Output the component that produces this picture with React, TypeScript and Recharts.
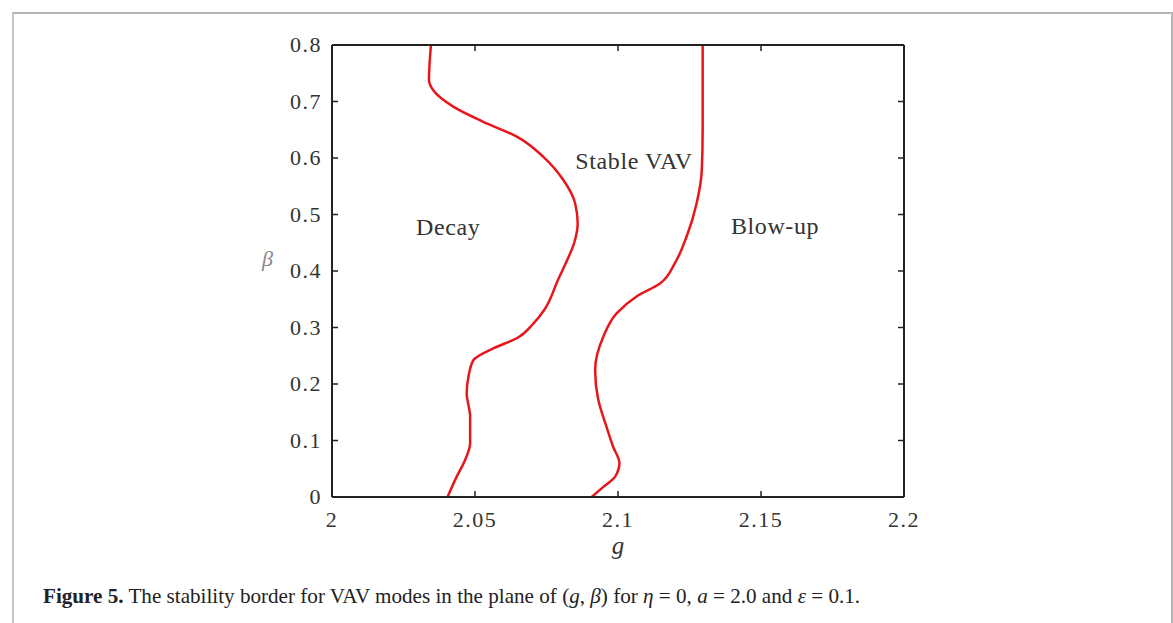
import React from "react";
import {
  LineChart,
  Line,
  XAxis,
  YAxis,
  ReferenceDot,
} from "recharts";

// stability border curves, g as a function of beta
const decayBorder = [
  { g: 2.0404, b: 0.0 },
  { g: 2.0436, b: 0.036 },
  { g: 2.0465, b: 0.065 },
  { g: 2.0483, b: 0.095 },
  { g: 2.0483, b: 0.142 },
  { g: 2.0471, b: 0.184 },
  { g: 2.0477, b: 0.213 },
  { g: 2.0494, b: 0.242 },
  { g: 2.0564, b: 0.263 },
  { g: 2.0646, b: 0.281 },
  { g: 2.0704, b: 0.307 },
  { g: 2.0742, b: 0.331 },
  { g: 2.0790, b: 0.384 },
  { g: 2.0822, b: 0.419 },
  { g: 2.0847, b: 0.45 },
  { g: 2.0859, b: 0.484 },
  { g: 2.0850, b: 0.52 },
  { g: 2.0809, b: 0.561 },
  { g: 2.0739, b: 0.602 },
  { g: 2.0646, b: 0.638 },
  { g: 2.0529, b: 0.664 },
  { g: 2.0424, b: 0.691 },
  { g: 2.0354, b: 0.72 },
  { g: 2.0339, b: 0.738 },
  { g: 2.0346, b: 0.8 },
];

const blowupBorder = [
  { g: 2.0908, b: 0.0 },
  { g: 2.0949, b: 0.018 },
  { g: 2.0990, b: 0.036 },
  { g: 2.1005, b: 0.06 },
  { g: 2.0983, b: 0.089 },
  { g: 2.0960, b: 0.124 },
  { g: 2.0931, b: 0.172 },
  { g: 2.0920, b: 0.225 },
  { g: 2.0949, b: 0.284 },
  { g: 2.0995, b: 0.325 },
  { g: 2.1065, b: 0.355 },
  { g: 2.1147, b: 0.378 },
  { g: 2.1199, b: 0.414 },
  { g: 2.1240, b: 0.461 },
  { g: 2.1275, b: 0.52 },
  { g: 2.1293, b: 0.579 },
  { g: 2.1296, b: 0.65 },
  { g: 2.1296, b: 0.8 },
];

const gTicks = [2, 2.05, 2.1, 2.15, 2.2];
const betaTicks = [0, 0.1, 0.2, 0.3, 0.4, 0.5, 0.6, 0.7, 0.8];

const regionLabels = [
  { text: "Decay", g: 2.0406, b: 0.478 },
  { text: "Stable VAV", g: 2.1056, b: 0.596 },
  { text: "Blow-up", g: 2.1549, b: 0.48 },
];

const FONT = "'Liberation Serif', 'Times New Roman', serif";
const INK = "#333";
const AXIS = "#222";

const BottomTick = ({ x, y, payload }: any) => (
  <g>
    <line x1={x} x2={x} y1={y} y2={y - 6} stroke={AXIS} strokeWidth={1.5} />
    <text x={x} y={y + 30} textAnchor="middle" fontSize={22} letterSpacing={1.5} fill={INK} fontFamily={FONT}>
      {payload.value}
    </text>
  </g>
);

const TopTick = ({ x, y }: any) => (
  <line x1={x} x2={x} y1={y} y2={y + 6} stroke={AXIS} strokeWidth={1.5} />
);

const LeftTick = ({ x, y, payload }: any) => (
  <g>
    <line x1={x} x2={x + 6} y1={y} y2={y} stroke={AXIS} strokeWidth={1.5} />
    <text x={x - 10} y={y + 7} textAnchor="end" fontSize={22} letterSpacing={1.5} fill={INK} fontFamily={FONT}>
      {payload.value}
    </text>
  </g>
);

const RightTick = ({ x, y }: any) => (
  <line x1={x} x2={x - 6} y1={y} y2={y} stroke={AXIS} strokeWidth={1.5} />
);

export default function App() {
  return (
    <div style={{ position: "absolute", left: 0, top: 0, width: 1173, height: 623, background: "#fff" }}>
      <div
        style={{
          position: "absolute",
          left: 12,
          top: 12,
          width: 1157,
          height: 640,
          borderTop: "2px solid #b5b5b5",
          borderLeft: "2px solid #c5c5c5",
          borderRight: "2px solid #b5b5b5",
        }}
      />
      <div style={{ position: "absolute", left: 0, top: 0 }}>
        <LineChart width={1173} height={623} margin={{ top: 44, right: 268, left: 252, bottom: 66 }}>
          <XAxis
            xAxisId="g"
            type="number"
            dataKey="g"
            domain={[2, 2.2]}
            ticks={gTicks}
            height={60}
            tickSize={0}
            tickMargin={0}
            tick={<BottomTick />}
            axisLine={{ stroke: AXIS, strokeWidth: 2 }}
            tickLine={false}
            allowDataOverflow
            label={{ value: "g", position: "insideBottom", offset: 3, fontSize: 25, fontStyle: "italic", fill: INK, fontFamily: FONT }}
          />
          <XAxis
            xAxisId="top"
            orientation="top"
            type="number"
            dataKey="g"
            domain={[2, 2.2]}
            ticks={gTicks}
            height={1}
            tickSize={0}
            tickMargin={0}
            tick={<TopTick />}
            axisLine={{ stroke: AXIS, strokeWidth: 2 }}
            tickLine={false}
            allowDataOverflow
          />
          <YAxis
            yAxisId="b"
            type="number"
            dataKey="b"
            domain={[0, 0.8]}
            ticks={betaTicks}
            width={80}
            tickSize={0}
            tickMargin={0}
            tick={<LeftTick />}
            axisLine={{ stroke: AXIS, strokeWidth: 2 }}
            tickLine={false}
            allowDataOverflow
            label={{ value: "β", position: "insideLeft", offset: 10, dy: -13, fontSize: 22, fontStyle: "italic", fill: "#888", fontFamily: FONT }}
          />
          <YAxis
            yAxisId="right"
            orientation="right"
            type="number"
            dataKey="b"
            domain={[0, 0.8]}
            ticks={betaTicks}
            width={1}
            tickSize={0}
            tickMargin={0}
            tick={<RightTick />}
            axisLine={{ stroke: AXIS, strokeWidth: 2 }}
            tickLine={false}
            allowDataOverflow
          />
          <Line
            xAxisId="g"
            yAxisId="b"
            data={decayBorder}
            dataKey="b"
            type="monotoneY"
            stroke="#e8161b"
            strokeWidth={2.5}
            dot={false}
            isAnimationActive={false}
          />
          <Line
            xAxisId="g"
            yAxisId="b"
            data={blowupBorder}
            dataKey="b"
            type="monotoneY"
            stroke="#e8161b"
            strokeWidth={2.5}
            dot={false}
            isAnimationActive={false}
          />
          {regionLabels.map((r) => (
            <ReferenceDot
              key={r.text}
              xAxisId="g"
              yAxisId="b"
              x={r.g}
              y={r.b}
              r={0}
              stroke="none"
              fill="none"
              label={{ value: r.text, position: "center", fontSize: 24, letterSpacing: 0.6, fill: INK, fontFamily: FONT }}
            />
          ))}
        </LineChart>
      </div>
      <div
        style={{
          position: "absolute",
          left: 43,
          top: 583,
          fontFamily: FONT,
          fontSize: 22,
          color: "#222",
          whiteSpace: "nowrap",
          transformOrigin: "0 0",
          transform: "scaleX(0.96)",
        }}
      >
        <b>Figure 5.</b> The stability border for VAV modes in the plane of (<i>g</i>, <i>β</i>) for{" "}
        <i>η</i> = 0, <i>a</i> = 2.0 and <i>ε</i> = 0.1.
      </div>
    </div>
  );
}
